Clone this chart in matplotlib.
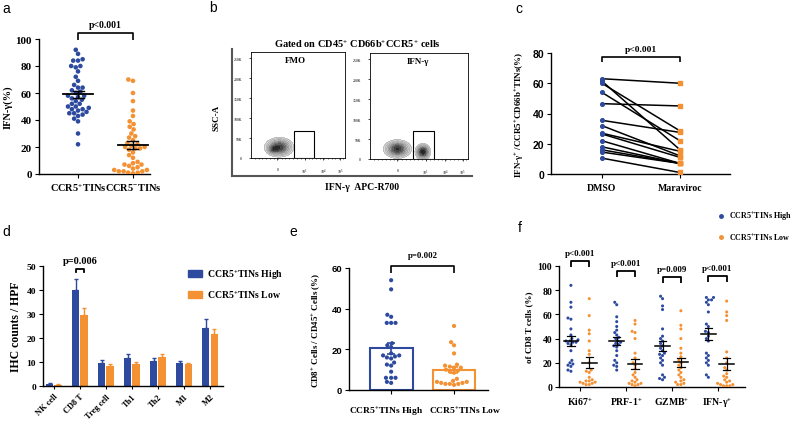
import matplotlib
matplotlib.use('Agg')
import matplotlib.pyplot as plt
from matplotlib.patches import Rectangle, Patch
from matplotlib.lines import Line2D
import numpy as np
import pandas as pd
import seaborn as sns

plt.rcParams['font.family'] = ['Liberation Serif', 'DejaVu Serif']
plt.rcParams['font.weight'] = 'bold'
plt.rcParams['axes.labelweight'] = 'bold'
plt.rcParams['mathtext.default'] = 'regular'
plt.rcParams['axes.linewidth'] = 1.0

BLUE = '#2d4a9e'
ORANGE = '#f39133'
SANS = 'Liberation Sans'

# ---- panel a: IFN-g in CCR5+ / CCR5- TINs
a_labels = ['CCR5$^{+}$TINs', 'CCR5$^{-}$TINs']
a_pos = [92, 89, 85, 84, 84, 80, 80, 79, 76, 72, 69, 66, 64, 64, 62, 61, 60, 58, 58, 57,
         56, 55, 54, 52, 52, 50, 50, 49, 48, 48, 47, 46, 45, 45, 44, 43, 41, 39, 30, 22]
a_neg = [70, 69, 60, 54, 47, 43, 39, 37, 35, 33, 30, 28, 27, 25, 23, 22, 21, 20, 20, 19,
         19, 18, 16, 14, 12, 9, 8, 7, 7, 6, 5, 4, 3, 3, 2, 2, 2, 1, 1, 0.5]

# ---- panel b: flow cytometry (contour blobs: x, y, sx, sy, weight)
b_xticks = [0.28, 0.57, 0.77, 0.95]
b_xticklabels = ['0', '10$^{3}$', '10$^{4}$', '10$^{5}$']
b_yticks = [0, 50000, 100000, 150000, 200000, 250000]
b_yticklabels = ['0', '50K', '100K', '150K', '200K', '250K']
b_fmo_blobs = [(0.30, 27000, 0.06, 9500, 1.0), (0.24, 22000, 0.03, 5000, 0.5)]
b_ifn_blobs = [(0.28, 25000, 0.055, 9000, 1.0), (0.54, 18000, 0.03, 8000, 1.1)]
b_fmo_gate = (0.457, 0.21, 68000)
b_ifn_gate = (0.44, 0.215, 71000)

# ---- panel c: paired DMSO vs Maraviroc
c_groups = ['DMSO', 'Maraviroc']
c_dmso = [63, 61.5, 60, 54, 46.5, 35.5, 32, 27, 26.5, 22, 18, 16, 14.5, 10.5]
c_marav = [60, 16, 28.5, 22, 45, 27.5, 12, 15, 11, 7, 7, 7, 7, 1]

# ---- panel d: IHC counts
d_cells = ['NK cell', 'CD8 T', 'Treg cell', 'Th1', 'Th2', 'M1', 'M2']
d_high = [0.8, 40, 9.5, 11.5, 10.5, 9.5, 24]
d_high_err = [0.3, 4.5, 1.5, 1.7, 1.2, 0.8, 4]
d_low = [0.5, 29.5, 8.3, 9, 12, 9, 21.5]
d_low_err = [0.2, 3, 1, 1.2, 1.2, 0.7, 2.3]

# ---- panel e: CD8+/CD45+ cells
e_labels = ['CCR5$^{+}$TINs High', 'CCR5$^{+}$TINs Low']
e_high = [54, 49.5, 37, 36, 33, 33, 33, 23, 22, 21, 18, 17, 17, 16.5, 16, 15.5, 13.5,
          12.5, 12, 9, 6, 6, 6, 4, 3.5]
e_low = [31.5, 23.5, 22, 18, 12.5, 12, 11.5, 11, 11, 10, 9.5, 9, 8.5, 5.5, 4.5, 4, 4,
         3.5, 3.5, 3, 3, 3, 2.5]

# ---- panel f: markers of CD8 T cells
f_markers = ['Ki67$^{+}$', 'PRF-1$^{+}$', 'GZMB$^{+}$', 'IFN-γ$^{+}$']
f_ki67_high = [84, 70, 66, 57, 56, 48, 43, 40, 39, 38, 38, 37, 37, 36, 35, 30, 22, 20, 19, 18, 17, 14, 13]
f_ki67_low = [73, 59, 47, 44, 38, 30, 27, 20, 14, 13, 12, 8, 6, 5, 5, 4, 4, 3, 3, 2, 2]
f_prf_high = [70, 68, 58, 54, 50, 47, 45, 43, 41, 40, 38, 37, 36, 35, 34, 33, 30, 26, 22, 20, 18, 17, 14]
f_prf_low = [55, 52, 46, 45, 40, 28, 24, 20, 18, 15, 12, 10, 8, 6, 5, 4, 3, 3, 2, 2, 1]
f_gzmb_high = [75, 73, 67, 64, 48, 42, 40, 38, 36, 34, 32, 30, 28, 27, 26, 24, 22, 20, 18, 10, 8, 7, 6]
f_gzmb_low = [63, 51, 48, 40, 32, 28, 25, 22, 20, 18, 16, 14, 12, 10, 8, 6, 5, 4, 3, 2, 2]
f_ifn_high = [74, 74, 72, 72, 70, 68, 62, 52, 50, 46, 45, 42, 40, 38, 28, 26, 24, 22, 20, 18, 10, 8]
f_ifn_low = [71, 62, 59, 55, 29, 24, 20, 16, 14, 11, 9, 8, 6, 5, 4, 3, 2, 2, 1, 1, 1]
f_pvals = ['p<0.001', 'p<0.001', 'p=0.009', 'p<0.001']
f_bracket_y = [104, 96, 91, 92]


def bracket(ax, x1, x2, y, drop, text, ty, fs=6.5, lw=1.2):
    ax.plot([x1, x1, x2, x2], [y - drop, y, y, y - drop], color='black', lw=lw,
            clip_on=False, solid_capstyle='butt')
    ax.text((x1 + x2) / 2, ty, text, ha='center', va='center', fontsize=fs)


def mean_sem(ax, x, vals, w, cw, lw=1.3, color='black'):
    m = np.mean(vals)
    s = np.std(vals, ddof=1) / np.sqrt(len(vals))
    ax.plot([x - w, x + w], [m, m], color=color, lw=lw, zorder=5)
    ax.plot([x, x], [m - s, m + s], color=color, lw=lw * 0.8, zorder=5)
    ax.plot([x - cw, x + cw], [m - s, m - s], color=color, lw=lw * 0.8, zorder=5)
    ax.plot([x - cw, x + cw], [m + s, m + s], color=color, lw=lw * 0.8, zorder=5)


def clean(ax):
    ax.spines['top'].set_visible(False)
    ax.spines['right'].set_visible(False)


fig = plt.figure(figsize=(8, 4.27), dpi=100)
W, H = 800, 427


def letter(x, y, s):
    fig.text(x / W, 1 - y / H, s, fontsize=10, fontfamily=SANS, fontweight='normal',
             ha='center', va='center')


letter(6, 9, 'a')
letter(213, 8, 'b')
letter(519, 9, 'c')
letter(6, 232, 'd')
letter(293, 232, 'e')
letter(520, 228, 'f')

# ================= panel a
ax = fig.add_axes([39 / W, 1 - 175 / H, 111 / W, 135 / H])
df_a = pd.DataFrame({'g': ['pos'] * len(a_pos) + ['neg'] * len(a_neg), 'v': a_pos + a_neg})
sns.swarmplot(data=df_a, x='g', y='v', hue='g', order=['pos', 'neg'],
              palette={'pos': BLUE, 'neg': ORANGE}, size=3.3, ax=ax, legend=False, zorder=3)
mean_sem(ax, 0, a_pos, 0.27, 0.1)
mean_sem(ax, 1, a_neg, 0.27, 0.1)
clean(ax)
ax.set_xlim(-0.71, 1.31)
ax.set_ylim(0, 100)
ax.set_yticks(range(0, 101, 20))
ax.set_xticks([0, 1])
ax.set_xticklabels(a_labels, fontsize=7.5)
ax.tick_params(axis='y', labelsize=8, length=3, pad=2)
ax.tick_params(axis='x', length=3, pad=2)
ax.set_xlabel('')
ax.set_ylabel('IFN-γ(%)', fontsize=7.5, labelpad=2)
bracket(ax, 0, 1, 104.4, 5, 'p<0.001', 110.5, fs=7)

# ================= panel b
ob = fig.add_axes([232 / W, 1 - 177 / H, 240 / W, 127 / H])
ob.set_xticks([])
ob.set_yticks([])
ob.patch.set_alpha(0)
for sp in ['top', 'right']:
    ob.spines[sp].set_visible(False)
for sp in ['left', 'bottom']:
    ob.spines[sp].set_color('#555555')
    ob.spines[sp].set_linewidth(1.5)
fig.text(357 / W, 1 - 44 / H, 'Gated on CD45$^{+}$ CD66b$^{+}$CCR5$^{+}$ cells', fontsize=7.5,
         ha='center', va='center')
fig.text(217 / W, 1 - 118 / H, 'SSC-A', fontsize=6.5, rotation=90, ha='center', va='center')
fig.text(362 / W, 1 - 188 / H, 'IFN-γ  APC-R700', fontsize=7, ha='center', va='center')

gx = np.linspace(0, 1, 300)
gy = np.linspace(0, 266000, 300)
GX, GY = np.meshgrid(gx, gy)


def flow(rect, blobs, gate, title, tx):
    fx = fig.add_axes(rect)
    Z = np.zeros_like(GX)
    for cx, cy, sx, sy, wt in blobs:
        Z += wt * np.exp(-((GX - cx) ** 2 / (2 * sx ** 2) + (GY - cy) ** 2 / (2 * sy ** 2)))
    Z = Z / Z.max()
    lev = np.array([0.03, 0.07, 0.13, 0.22, 0.33, 0.46, 0.6, 0.75, 0.9, 1.01])
    fx.contourf(GX, GY, Z, levels=lev, cmap='Greys', vmin=-0.3, vmax=1.15)
    fx.contour(GX, GY, Z, levels=lev[:-1], colors='#222222', linewidths=0.25, alpha=0.45)
    fx.add_patch(Rectangle((gate[0], 0), gate[1], gate[2], fill=False, ec='black', lw=0.8))
    fx.set_xlim(0, 1)
    fx.set_ylim(0, 266000)
    fx.set_xticks(b_xticks)
    fx.set_xticklabels(b_xticklabels, fontsize=2.8, fontweight='normal')
    fx.set_yticks(b_yticks)
    fx.set_yticklabels(b_yticklabels, fontsize=2.8, fontweight='normal')
    fx.set_xticks(np.linspace(0.04, 0.98, 24), minor=True)
    fx.tick_params(length=1.5, width=0.5, pad=5)
    fx.tick_params(which='minor', length=1, width=0.4)
    for sp in fx.spines.values():
        sp.set_linewidth(0.6)
    fx.text(tx, 0.92, title, transform=fx.transAxes, fontsize=6.5, ha='center', va='center')


flow([251 / W, 1 - 159 / H, 94 / W, 106 / H], b_fmo_blobs, b_fmo_gate, 'FMO', 0.47)
flow([370 / W, 1 - 160 / H, 98 / W, 106 / H], b_ifn_blobs, b_ifn_gate, 'IFN-γ', 0.49)

# ================= panel c
ax = fig.add_axes([551 / W, 1 - 175 / H, 179 / W, 121 / H])
for d, m in zip(c_dmso, c_marav):
    ax.plot([0, 1], [d, m], color='black', lw=1.1, zorder=2)
ax.scatter(np.zeros(len(c_dmso)), c_dmso, s=7, marker='o', color=BLUE, zorder=3)
ax.scatter(np.ones(len(c_marav)), c_marav, s=7, marker='s', color=ORANGE, zorder=3)
clean(ax)
ax.set_xlim(-0.65, 1.64)
ax.set_ylim(0, 80)
ax.set_yticks(range(0, 81, 20))
ax.set_xticks([0, 1])
ax.set_xticklabels(c_groups, fontsize=7)
for t in ax.get_yticklabels():
    t.set_fontfamily(SANS)
ax.tick_params(axis='y', labelsize=7.5, length=3, pad=2)
ax.tick_params(axis='x', length=3)
ax.set_ylabel('IFN-γ$^{+}$ /CCR5$^{+}$CD66b$^{+}$TINs(%)', fontsize=6.5, labelpad=4)
bracket(ax, 0, 1, 77.4, 3.5, 'p<0.001', 82.8, fs=6.8)

# ================= panel d
ax = fig.add_axes([43 / W, 1 - 387 / H, 180 / W, 120 / H])
x = np.arange(len(d_cells))
ax.bar(x - 0.17, d_high, 0.3, color=BLUE, yerr=[np.zeros(len(x)), d_high_err],
       error_kw=dict(ecolor=BLUE, capsize=1.6, elinewidth=1, capthick=1))
ax.bar(x + 0.17, d_low, 0.3, color=ORANGE, yerr=[np.zeros(len(x)), d_low_err],
       error_kw=dict(ecolor=ORANGE, capsize=1.6, elinewidth=1, capthick=1))
clean(ax)
ax.set_xlim(-0.42, 6.5)
ax.set_ylim(0, 50)
ax.set_yticks(range(0, 51, 10))
ax.set_xticks(x)
ax.set_xticklabels(d_cells, fontsize=6, rotation=45, ha='right', rotation_mode='anchor')
ax.tick_params(axis='y', labelsize=6.8, length=3, pad=2)
ax.tick_params(axis='x', length=2.5, pad=2)
ax.set_ylabel('IHC counts / HPF', fontsize=8.5, labelpad=3)
ax.plot([1 - 0.17, 1 - 0.17, 1 + 0.17, 1 + 0.17], [47.5, 48.7, 48.7, 47.5], color='black',
        lw=1.3, clip_on=False)
ax.text(1, 52.3, 'p=0.006', ha='center', va='center', fontsize=7.5)
ax.legend(handles=[Patch(color=BLUE, label='CCR5$^{+}$TINs High'),
                   Patch(color=ORANGE, label='CCR5$^{+}$TINs Low')],
          loc='upper left', bbox_to_anchor=(184 / W, 1 - 264 / H), bbox_transform=fig.transFigure,
          frameon=False, fontsize=7, handlelength=1.4, handleheight=0.7, labelspacing=0.75,
          borderaxespad=0, handletextpad=0.6)

# ================= panel e
ax = fig.add_axes([349 / W, 1 - 391 / H, 139 / W, 122 / H])
df_e = pd.DataFrame({'g': ['hi'] * len(e_high) + ['lo'] * len(e_low), 'v': e_high + e_low})
sns.swarmplot(data=df_e, x='g', y='v', hue='g', order=['hi', 'lo'],
              palette={'hi': BLUE, 'lo': ORANGE}, size=3.0, ax=ax, legend=False, zorder=3)
for i, (vals, c) in enumerate([(e_high, BLUE), (e_low, ORANGE)]):
    m = np.mean(vals)
    s = np.std(vals, ddof=1) / np.sqrt(len(vals))
    ax.bar(i, m, 0.68, facecolor='none', edgecolor=c, linewidth=1.5, zorder=2)
    ax.errorbar(i, m, yerr=s, color=c, capsize=3, elinewidth=1.2, capthick=1.2, zorder=4)
clean(ax)
ax.set_xlim(-0.67, 1.54)
ax.set_ylim(0, 60)
ax.set_yticks(range(0, 61, 20))
ax.set_xticks([0, 1])
ax.set_xticklabels([])
ax.text(-0.08, -0.12, e_labels[0], transform=ax.get_xaxis_transform(), ha='center', va='top',
        fontsize=6.8)
ax.text(1.17, -0.12, e_labels[1], transform=ax.get_xaxis_transform(), ha='center', va='top',
        fontsize=6.8)
for t in ax.get_yticklabels():
    t.set_fontfamily(SANS)
ax.tick_params(axis='y', labelsize=6.8, length=3, pad=2)
ax.tick_params(axis='x', length=3, pad=3)
ax.set_xlabel('')
ax.set_ylabel('CD8$^{+}$ Cells / CD45$^{+}$ Cells (%)', fontsize=6.5, labelpad=6)
bracket(ax, 0, 1, 61, 3.5, 'p=0.002', 66.3, fs=6.3)

# ================= panel f
ax = fig.add_axes([559 / W, 1 - 388 / H, 186 / W, 121 / H])
f_high = [f_ki67_high, f_prf_high, f_gzmb_high, f_ifn_high]
f_low = [f_ki67_low, f_prf_low, f_gzmb_low, f_ifn_low]
rows = []
for i in range(4):
    rows += [(i, 'High', v) for v in f_high[i]]
    rows += [(i, 'Low', v) for v in f_low[i]]
df_f = pd.DataFrame(rows, columns=['m', 'g', 'v'])
sns.swarmplot(data=df_f, x='m', y='v', hue='g', order=[0, 1, 2, 3], hue_order=['High', 'Low'],
              dodge=True, palette={'High': BLUE, 'Low': ORANGE}, size=2.2, ax=ax,
              legend=False, zorder=3)
for i in range(4):
    mean_sem(ax, i - 0.2, f_high[i], 0.16, 0.08, lw=1.1)
    mean_sem(ax, i + 0.2, f_low[i], 0.16, 0.08, lw=1.1)
    bracket(ax, i - 0.2, i + 0.2, f_bracket_y[i], 5, f_pvals[i], f_bracket_y[i] + 6.5, fs=6.5,
            lw=1.3)
clean(ax)
ax.set_xlim(-0.46, 3.6)
ax.set_ylim(0, 100)
ax.set_yticks(range(0, 101, 20))
ax.set_xticks(range(4))
ax.set_xticklabels(f_markers, fontsize=7)
ax.tick_params(axis='y', labelsize=7, length=3, pad=2)
ax.tick_params(axis='x', length=3, pad=3)
ax.set_xlabel('')
ax.set_ylabel('of CD8 T cells (%)', fontsize=6.5, labelpad=3)
ax.legend(handles=[Line2D([], [], ls='', marker='o', ms=2.5, color=BLUE, label='CCR5$^{+}$TINs High'),
                   Line2D([], [], ls='', marker='o', ms=2.5, color=ORANGE, label='CCR5$^{+}$TINs Low')],
          loc='upper left', bbox_to_anchor=(714 / W, 1 - 208 / H), bbox_transform=fig.transFigure,
          frameon=False, fontsize=5.8, handlelength=1.0, labelspacing=1.0, borderaxespad=0,
          handletextpad=0.5)

fig.savefig('out.png', dpi=100)
